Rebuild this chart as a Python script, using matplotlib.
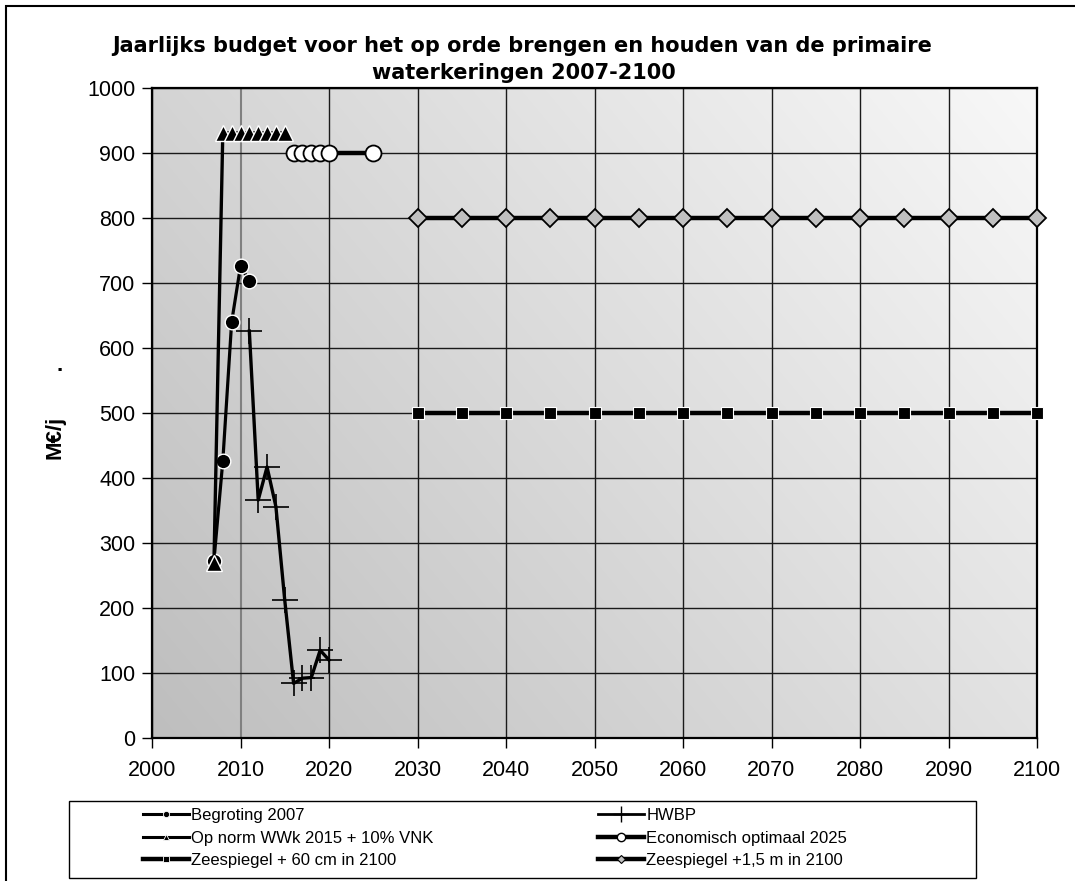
import matplotlib
matplotlib.use("Agg")
import matplotlib.pyplot as plt
import numpy as np
from matplotlib.lines import Line2D
from matplotlib.patches import Rectangle

plt.rcParams['font.family'] = ['Liberation Sans', 'DejaVu Sans']

# ---- data ----
begroting_years = [2007, 2008, 2009, 2010, 2011]
begroting_vals = [273, 426, 640, 726, 703]

hwbp_years = [2011, 2012, 2013, 2014, 2015, 2016, 2017, 2018, 2019, 2020]
hwbp_vals = [626, 366, 417, 356, 212, 84, 92, 93, 135, 120]

opnorm_years = [2007, 2008, 2009, 2010, 2011, 2012, 2013, 2014, 2015]
opnorm_vals = [270, 931, 931, 931, 931, 931, 931, 931, 931]

econ_years = [2016, 2017, 2018, 2019, 2020, 2025]
econ_vals = [900, 900, 900, 900, 900, 900]

zee_years = [2030, 2035, 2040, 2045, 2050, 2055, 2060, 2065, 2070, 2075,
             2080, 2085, 2090, 2095, 2100]
zee60_vals = [500] * 15
zee150_vals = [800] * 15

labels = ["Begroting 2007", "Op norm WWk 2015 + 10% VNK", "Zeespiegel + 60 cm in 2100",
          "HWBP", "Economisch optimaal 2025", "Zeespiegel +1,5 m in 2100"]

title = "Jaarlijks budget voor het op orde brengen en houden van de primaire\nwaterkeringen 2007-2100"

# ---- figure ----
W, H = 1075, 881
fig = plt.figure(figsize=(W / 100, H / 100), dpi=100)
L, R, T, B = 152, 1037, 88, 738
ax = fig.add_axes([L / W, 1 - B / H, (R - L) / W, (B - T) / H])

# gradient background
gx, gy = np.meshgrid(np.linspace(0, 1, 200), np.linspace(0, 1, 200))
g = (190 + 36 * gx + 22 * gy) / 255.0
g = np.clip(g, 0, 1)
img = np.dstack([g, g, g])
ax.imshow(img, extent=[0, 1, 0, 1], transform=ax.transAxes, origin='lower',
          aspect='auto', zorder=0, interpolation='bilinear')

ax.set_xlim(2000, 2100)
ax.set_ylim(0, 1000)
ax.set_xticks(np.arange(2000, 2101, 10))
ax.set_yticks(np.arange(0, 1001, 100))
ax.tick_params(axis='both', direction='out', length=7, width=1, labelsize=15.5,
               colors='black', pad=5)
ax.tick_params(axis='x', pad=9)
ax.grid(True, color='#1a1a1a', linewidth=1)
ax.set_axisbelow(False)
for gl in ax.get_xgridlines():
    gl.set_zorder(1)
for gl in ax.get_ygridlines():
    gl.set_zorder(1)
xgl = ax.get_xgridlines()
xgl[1].set_color('#808080')
xgl[1].set_linewidth(1.5)
for s in ax.spines.values():
    s.set_linewidth(1.6)
    s.set_color('black')
    s.set_zorder(3)

# series
ax.plot(begroting_years, begroting_vals, color='black', lw=2.3, marker='o',
        markersize=10.5, markerfacecolor='black', markeredgecolor='white',
        markeredgewidth=1, zorder=4)
ax.plot(hwbp_years, hwbp_vals, color='black', lw=2.4, marker='+',
        markersize=19, markeredgewidth=1.2, zorder=4)
ax.plot(opnorm_years, opnorm_vals, color='black', lw=2.4, marker='^',
        markersize=11, markerfacecolor='black', markeredgecolor='white',
        markeredgewidth=1, zorder=5)
ax.plot(econ_years, econ_vals, color='black', lw=3.2, marker='o',
        markersize=11.5, markerfacecolor='white', markeredgecolor='black',
        markeredgewidth=1.3, zorder=5)
ax.plot(zee_years, zee60_vals, color='black', lw=3.2, marker='s',
        markersize=9, markerfacecolor='black', markeredgecolor='white',
        markeredgewidth=0.8, zorder=5, clip_on=False)
ax.plot(zee_years, zee150_vals, color='black', lw=3.2, marker='D',
        markersize=9.6, markerfacecolor='#c0c0c0', markeredgecolor='black',
        markeredgewidth=1.3, zorder=5, clip_on=False)

# title & labels
fig.text(522 / W, 1 - 46 / H, title.split("\n")[0], ha='center', va='center',
         fontsize=15, fontweight='bold', family=['DejaVu Sans'])
fig.text(524 / W, 1 - 73 / H, title.split("\n")[1], ha='center', va='center',
         fontsize=15, fontweight='bold', family=['DejaVu Sans'])
fig.text(55 / W, 1 - 437 / H, "M€/j", rotation=90, ha='center', va='center',
         fontsize=16, fontweight='bold')
fig.text(60 / W, 1 - 366 / H, ".", ha='center', va='center', fontsize=16,
         fontweight='bold')

# outer frame
fig.patches.append(Rectangle((6 / W, -0.1), 1.2, 1 - 6 / H + 0.1, transform=fig.transFigure,
                             fill=False, edgecolor='black', linewidth=1.5))

# legend box
fig.patches.append(Rectangle((69 / W, 1 - 878 / H), (976 - 69) / W, (878 - 801) / H,
                             transform=fig.transFigure, fill=False,
                             edgecolor='black', linewidth=1))

def h(**kw):
    return Line2D([0], [0], color='black', **kw)

handles = [
    h(lw=2.2, marker='o', markersize=4.5, markerfacecolor='black', markeredgecolor='white', markeredgewidth=0.6),
    h(lw=2.2, marker='^', markersize=5, markerfacecolor='black', markeredgecolor='white', markeredgewidth=0.6),
    h(lw=3.2, marker='s', markersize=4.5, markerfacecolor='black', markeredgecolor='white', markeredgewidth=0.6),
    h(lw=2.0, marker='+', markersize=11, markeredgewidth=1.0),
    h(lw=3.2, marker='o', markersize=6, markerfacecolor='white', markeredgecolor='black', markeredgewidth=1.0),
    h(lw=3.2, marker='D', markersize=4.5, markerfacecolor='#c0c0c0', markeredgecolor='black', markeredgewidth=0.8),
]

common = dict(frameon=False, fontsize=12, handlelength=2.75, handletextpad=0.15,
              labelspacing=0.45, borderpad=0, borderaxespad=0, loc='upper left')
leg1 = fig.legend(handles[:3], labels[:3], bbox_to_anchor=(143 / W, 1 - 808 / H), **common)
leg2 = fig.legend(handles[3:], labels[3:], bbox_to_anchor=(598 / W, 1 - 808 / H), **common)

fig.savefig("out.png", dpi=100)
